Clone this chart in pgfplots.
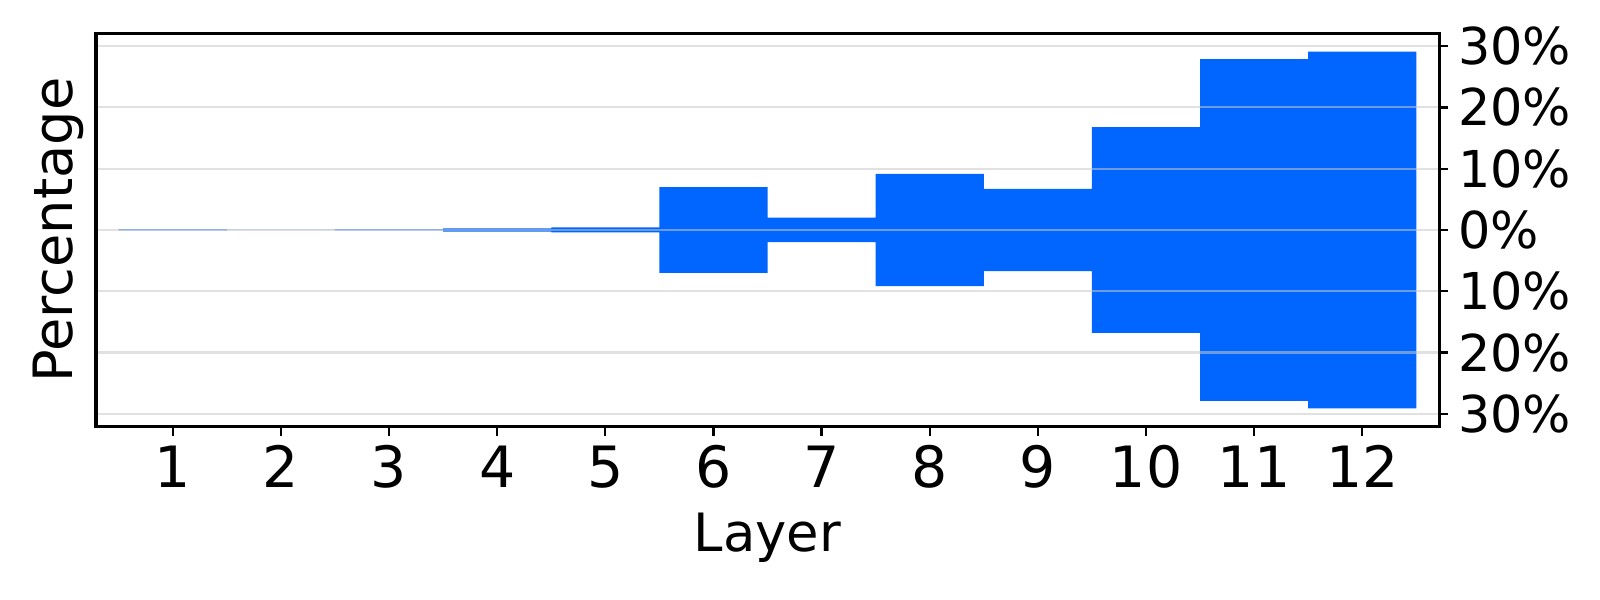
\documentclass[border=0pt]{standalone}
\usepackage{pgfplots}
\pgfplotsset{compat=1.18}
\usepackage{pgfplotstable}
\usepackage{fontspec}
\setmainfont{DejaVu Sans}
\definecolor{barB}{RGB}{0,102,255}
\definecolor{gridG}{RGB}{200,200,200}

\pgfplotstableread{
layer pct
1 0.08
2 0
3 0.08
4 0.25
5 0.41
6 7.0
7 2.0
8 9.15
9 6.7
10 16.8
11 27.9
12 29.1
}\layers

\begin{document}
\begin{tikzpicture}
\useasboundingbox (-34.56pt,-62.4pt) rectangle (541.44pt,153.6pt);
\begin{axis}[name=ax,scale only axis,width=483.5pt,height=141.6pt,
 xmin=0.29,xmax=12.71,ymin=-32.1,ymax=32.1,
 axis line style={line width=1.1pt},
 axis on top,
 ymajorgrids, grid style={gridG,line width=0.75pt,opacity=0.55},
 tick align=outside, major tick length=3.3pt, tick style={black,line width=0.8pt},
 xtick={1,...,12}, xticklabels={1,2,3,4,5,6,7,8,9,10,11,12},
 xtick pos=bottom,
 ytick={-30,-20,-10,0,10,20,30},
 yticklabels={30\%,20\%,10\%,0\%,10\%,20\%,30\%},
 ytick pos=right, yticklabel pos=right,
 xticklabel style={font=\fontsize{20.5}{24}\selectfont},
 yticklabel style={font=\fontsize{18.3}{22}\selectfont},
 xlabel={Layer},
 xlabel style={font=\fontsize{19}{23}\selectfont,at={(axis description cs:0.5,0)},anchor=base,yshift=-45pt},
]
\addplot[ybar,bar width=1,bar shift=0pt,fill=barB,draw=none] table[x=layer,y=pct] {\layers};
\addplot[ybar,bar width=1,bar shift=0pt,fill=barB,draw=none] table[x=layer,y expr=-\thisrow{pct}] {\layers};
\end{axis}
\node[font=\fontsize{19.5}{23}\selectfont,rotate=90,anchor=base] at ([xshift=-8.3pt]ax.west) {Percentage};
\end{tikzpicture}
\end{document}
